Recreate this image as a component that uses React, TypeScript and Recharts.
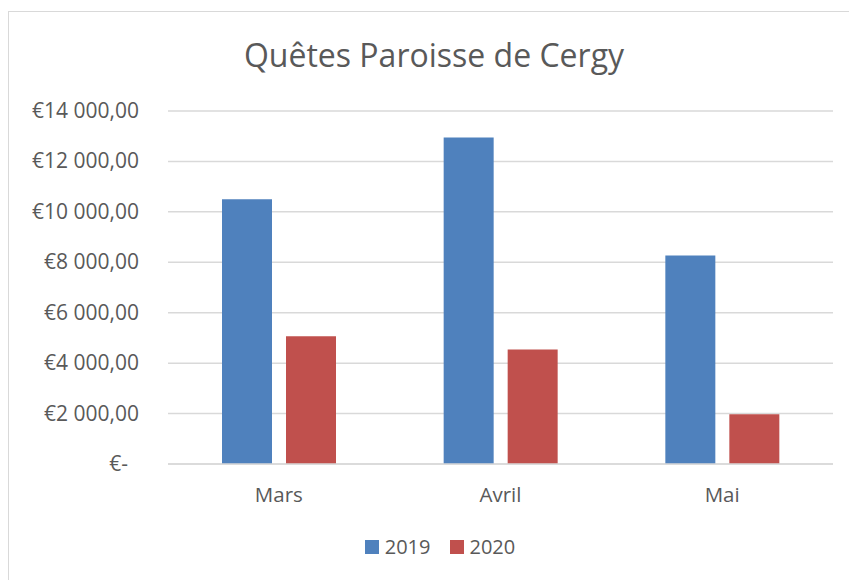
import React from "react";
import { BarChart, Bar, XAxis, YAxis, CartesianGrid, Legend } from "recharts";

const months = ["Mars", "Avril", "Mai"];
const values2019 = [10500, 12950, 8270];
const values2020 = [5070, 4540, 1970];
const yTicks = [0, 2000, 4000, 6000, 8000, 10000, 12000, 14000];
const seriesNames = ["2019", "2020"];
const seriesColors = ["#4F81BD", "#C0504D"];
const title = "Quêtes Paroisse de Cergy";

const data = months.map((m, i) => ({
  month: m,
  "2019": values2019[i],
  "2020": values2020[i],
}));

const FONT = "'Open Sans', sans-serif";
const TEXT = "#595959";
const GRID = "#d9d9d9";

const formatEuro = (v: number) => {
  if (v === 0) return "€-";
  const s = Math.round(v).toString().replace(/\B(?=(\d{3})+(?!\d))/g, " ");
  return "€" + s + ",00";
};

const YTick = (props: any) => {
  const { x, y, payload } = props;
  const v = payload.value as number;
  const shift = v === 0 ? 40 : 29;
  return (
    <text x={x - shift} y={y + 7} textAnchor="end" fill={TEXT} fontSize={21} fontFamily={FONT}>
      {formatEuro(v)}
    </text>
  );
};

const XTick = (props: any) => {
  const { x, y, payload } = props;
  return (
    <text x={x} y={y + 38} textAnchor="middle" fill={TEXT} fontSize={20.5} fontFamily={FONT}>
      {payload.value}
    </text>
  );
};

const LegendContent = () => (
  <div
    style={{
      display: "flex",
      justifyContent: "center",
      alignItems: "center",
      paddingLeft: 31,
      boxSizing: "border-box",
      width: 849,
      lineHeight: "20px",
      fontFamily: FONT,
      fontSize: 20,
      color: TEXT,
    }}
  >
    {seriesNames.map((n, i) => (
      <div key={n} style={{ display: "flex", alignItems: "center", marginLeft: i === 0 ? 0 : 19 }}>
        <div style={{ width: 14, height: 14, background: seriesColors[i], marginRight: 6 }} />
        <span>{n}</span>
      </div>
    ))}
  </div>
);

export default function App() {
  return (
    <div
      style={{
        position: "absolute",
        left: 0,
        top: 0,
        width: 849,
        height: 580,
        overflow: "hidden",
        background: "#fff",
      }}
    >
      <div
        style={{
          position: "absolute",
          left: 8,
          top: 11,
          width: 900,
          height: 700,
          borderLeft: `1.5px solid ${GRID}`,
          borderTop: `1.5px solid ${GRID}`,
        }}
      />
      <div
        style={{
          position: "absolute",
          left: 0,
          top: 33,
          width: 868,
          textAlign: "center",
          fontFamily: FONT,
          fontSize: 32,
          color: TEXT,
          whiteSpace: "nowrap",
        }}
      >
        {title}
      </div>
      <div style={{ position: "absolute", left: 0, top: 0 }}>
        <BarChart
          width={849}
          height={580}
          data={data}
          margin={{ top: 111, right: 16, bottom: 56, left: 0 }}
          barSize={50}
          barGap={14}
        >
          <CartesianGrid vertical={false} stroke={GRID} strokeWidth={1.5} />
          <XAxis
            dataKey="month"
            height={60}
            axisLine={{ stroke: GRID, strokeWidth: 1.5 }}
            tickLine={false}
            tickSize={0}
            tickMargin={0}
            tick={<XTick />}
            interval={0}
          />
          <YAxis
            width={168}
            domain={[0, 14000]}
            ticks={yTicks}
            axisLine={false}
            tickLine={false}
            tickSize={0}
            tickMargin={0}
            tick={<YTick />}
            interval={0}
          />
          <Legend
            verticalAlign="middle"
            align="center"
            layout="horizontal"
            wrapperStyle={{ top: 537, left: 0, width: 849 }}
            content={<LegendContent />}
          />
          {seriesNames.map((n, i) => (
            <Bar key={n} dataKey={n} fill={seriesColors[i]} isAnimationActive={false} />
          ))}
        </BarChart>
      </div>
    </div>
  );
}
